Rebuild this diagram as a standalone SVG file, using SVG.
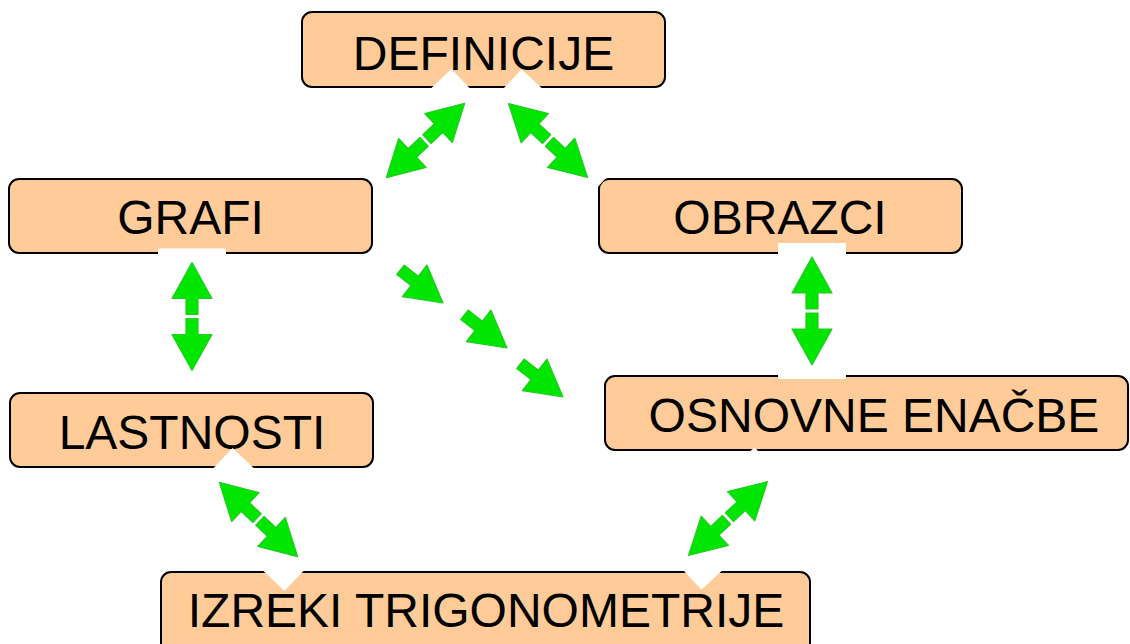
<svg xmlns="http://www.w3.org/2000/svg" width="1130" height="644" viewBox="0 0 1130 644">
<defs>
<style>
.box{fill:#FFCC99;stroke:#000;stroke-width:2}
.lbl{font-family:"Liberation Sans",Arial,sans-serif;font-size:48px;fill:#000;text-anchor:middle}
.bg{fill:#fff}
.ar{fill:#00E600;stroke:#22CC22;stroke-width:1.2;stroke-linejoin:round}
</style>
<g id="dbl">
<rect class="bg" x="-68" y="-34" width="136" height="68"/>
<polygon class="ar" points="2,-6 18,-6 18,-20 54,0 18,20 18,6 2,6"/>
<polygon class="ar" points="-2,-6 -18,-6 -18,-20 -54,0 -18,20 -18,6 -2,6"/>
</g>
<polygon id="sgl" class="ar" points="-54,-6 -36,-6 -36,-20 0,0 -36,20 -36,6 -54,6"/>
</defs>
<rect width="1130" height="644" fill="#fff"/>
<g id="n-definicije"><rect class="box" x="302" y="12" width="363" height="75" rx="10"/><text class="lbl" x="483.5" y="70">DEFINICIJE</text></g>
<g id="n-grafi"><rect class="box" x="9" y="179" width="363" height="74" rx="10"/><text class="lbl" x="190.5" y="234">GRAFI</text></g>
<g id="n-obrazci"><rect class="box" x="599" y="179" width="363" height="74" rx="10"/><text class="lbl" x="780" y="234">OBRAZCI</text></g>
<g id="n-lastnosti"><rect class="box" x="10" y="393" width="363" height="74" rx="10"/><text class="lbl" x="192" y="449">LASTNOSTI</text></g>
<g id="n-osnovne"><rect class="box" x="605" y="376" width="523" height="74" rx="10"/><text class="lbl" x="874" y="432">OSNOVNE ENAČBE</text></g>
<g id="n-izreki"><rect class="box" x="161" y="572" width="649" height="90" rx="10"/><text class="lbl" x="486" y="627">IZREKI TRIGONOMETRIJE</text></g>
<g id="connectors">
<use href="#dbl" transform="translate(425.5,140.5) rotate(-43.5)"/>
<use href="#dbl" transform="translate(548,140.5) rotate(43)"/>
<use href="#dbl" transform="translate(192,316.5) rotate(90)"/>
<use href="#dbl" transform="translate(812,311) rotate(90)"/>
<use href="#dbl" transform="translate(258.5,519.5) rotate(43.5)"/>
<use href="#dbl" transform="translate(728,518.5) rotate(-43)"/>
<use href="#sgl" transform="translate(443,303) rotate(38)"/>
<use href="#sgl" transform="translate(507,348) rotate(38)"/>
<use href="#sgl" transform="translate(563,397) rotate(38)"/>
</g>
</svg>
